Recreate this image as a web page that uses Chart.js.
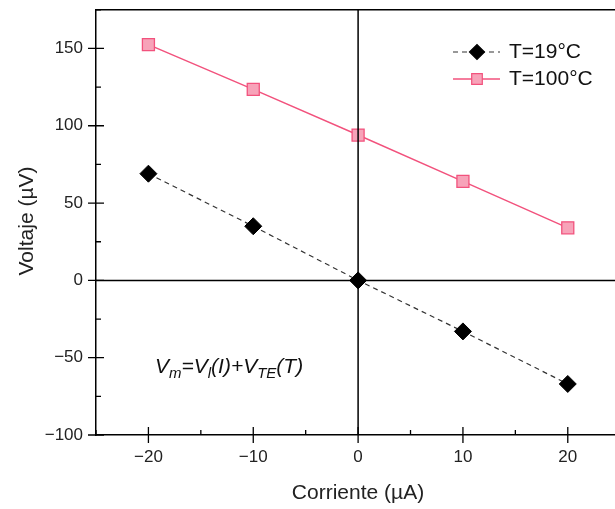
<!DOCTYPE html>
<html><head><meta charset="utf-8">
<script src="https://cdn.jsdelivr.net/npm/chart.js@4.4.0/dist/chart.umd.min.js"></script>
<style>
html,body{margin:0;padding:0;background:#fff;overflow:hidden;}
#wrap{width:630px;height:509px;position:relative;}
</style></head>
<body><div id="wrap"><canvas id="c" width="630" height="509"></canvas></div>
<script>
const corriente = [-20, -10, 0, 10, 20];
const t19 = [69, 35, 0, -33, -67];
const t100 = [152.5, 123.5, 94, 64, 34];
const xTicks = [-20, -10, 0, 10, 20];
const yTicks = [-100, -50, 0, 50, 100, 150];
const xMinor = [-25, -15, -5, 5, 15, 25];
const yMinor = [-75, -25, 25, 75, 125, 175];
const legendLabels = ['T=19°C', 'T=100°C'];

const FONT = 'Liberation Sans, Arial, sans-serif';
const RED = '#F2527D', PINK = '#F7A3B9';

const decor = {
  id: 'decor',
  afterDraw(chart) {
    const ctx = chart.ctx, a = chart.chartArea;
    const xs = chart.scales.x, ys = chart.scales.y;
    ctx.save();
    ctx.strokeStyle = '#000';
    ctx.lineWidth = 1.5;
    ctx.beginPath(); ctx.moveTo(a.left, a.top); ctx.lineTo(a.right + 5, a.top); ctx.stroke();
    ctx.beginPath();
    ctx.moveTo(xs.getPixelForValue(0), a.top); ctx.lineTo(xs.getPixelForValue(0), a.bottom);
    ctx.moveTo(a.left, ys.getPixelForValue(0)); ctx.lineTo(a.right + 5, ys.getPixelForValue(0));
    ctx.stroke();
    ctx.lineWidth = 1.3;
    ctx.beginPath();
    yTicks.forEach(v => { const y = ys.getPixelForValue(v); ctx.moveTo(a.left - 8, y); ctx.lineTo(a.left + 8, y); });
    yMinor.forEach(v => { const y = ys.getPixelForValue(v); ctx.moveTo(a.left, y); ctx.lineTo(a.left + 5, y); });
    xTicks.forEach(v => { const x = xs.getPixelForValue(v); ctx.moveTo(x, a.bottom + 8); ctx.lineTo(x, a.bottom - 8); });
    xMinor.forEach(v => { const x = xs.getPixelForValue(v); ctx.moveTo(x, a.bottom); ctx.lineTo(x, a.bottom - 5); });
    ctx.stroke();
    ctx.fillStyle = '#222';
    ctx.font = '21px ' + FONT;
    ctx.textAlign = 'center'; ctx.textBaseline = 'middle';
    ctx.fillText('Corriente (µA)', 358, 493);
    ctx.save(); ctx.translate(27, 221); ctx.rotate(-Math.PI/2); ctx.fillText('Voltaje (µV)', 0, 0); ctx.restore();
    const rows = [{y: 52, ds: chart.data.datasets[0], r: 7.5}, {y: 79, ds: chart.data.datasets[1], r: 7.5}];
    rows.forEach((r, i) => {
      ctx.save();
      ctx.strokeStyle = r.ds.borderColor; ctx.lineWidth = r.ds.borderWidth;
      ctx.setLineDash(r.ds.borderDash || []);
      ctx.beginPath(); ctx.moveTo(453, r.y); ctx.lineTo(500, r.y); ctx.stroke();
      ctx.setLineDash([]);
      ctx.fillStyle = r.ds.pointBackgroundColor; ctx.strokeStyle = r.ds.pointBorderColor; ctx.lineWidth = 1.2;
      Chart.helpers.drawPoint(ctx, {pointStyle: r.ds.pointStyle, rotation: 0, radius: r.r, borderWidth: 1.2}, 477, r.y);
      ctx.restore();
      ctx.fillStyle = '#111'; ctx.textAlign = 'left'; ctx.textBaseline = 'middle';
      ctx.font = '21px ' + FONT;
      ctx.fillText(legendLabels[i], 509, r.y);
    });
    let x = 155; const yb = 373;
    ctx.textAlign = 'left'; ctx.textBaseline = 'alphabetic'; ctx.fillStyle = '#111';
    const parts = [['V', 21, 0], ['m', 15, 5], ['=V', 21, 0], ['l', 15, 5], ['(I)+V', 21, 0], ['TE', 15, 5], ['(T)', 21, 0]];
    parts.forEach(p => { ctx.font = 'italic ' + p[1] + 'px ' + FONT; ctx.fillText(p[0], x, yb + p[2]); x += ctx.measureText(p[0]).width; });
    ctx.restore();
  }
};

new Chart(document.getElementById('c'), {
  type: 'line',
  data: {
    labels: corriente,
    datasets: [
      {label: legendLabels[0], data: corriente.map((c, i) => ({x: c, y: t19[i]})),
       borderColor: '#333', borderWidth: 1.2, borderDash: [5, 4], pointStyle: 'rectRot', pointRadius: 8.5,
       pointBackgroundColor: '#000', pointBorderColor: '#000', pointBorderWidth: 1},
      {label: legendLabels[1], data: corriente.map((c, i) => ({x: c, y: t100[i]})),
       borderColor: RED, borderWidth: 1.5, pointStyle: 'rect', pointRadius: 8.5,
       pointBackgroundColor: PINK, pointBorderColor: RED, pointBorderWidth: 1.3}
    ]
  },
  options: {
    responsive: false, animation: false,
    layout: {padding: {top: 8, right: 7, left: 0, bottom: 0}},
    plugins: {legend: {display: false}, tooltip: {enabled: false}},
    scales: {
      x: {type: 'linear', min: -25, max: 25,
          afterBuildTicks: s => { s.ticks = xTicks.map(v => ({value: v})); },
          afterFit: s => { s.height = 74; s.paddingLeft = 0; s.paddingRight = 0; },
          grid: {display: true, drawOnChartArea: false, drawTicks: true, tickLength: 8, color: 'rgba(0,0,0,0)'},
          border: {display: true, color: '#000', width: 1.5},
          ticks: {color: '#222', font: {family: FONT, size: 17}, padding: 4,
                  callback: v => (v < 0 ? '\u2212' + Math.abs(v) : String(v))}},
      y: {type: 'linear', min: -100, max: 175,
          afterBuildTicks: s => { s.ticks = yTicks.map(v => ({value: v})); },
          afterFit: s => { s.width = 96; s.paddingTop = 0; s.paddingBottom = 0; },
          grid: {display: true, drawOnChartArea: false, drawTicks: true, tickLength: 8, color: 'rgba(0,0,0,0)'},
          border: {display: true, color: '#000', width: 1.5},
          ticks: {color: '#222', font: {family: FONT, size: 17}, padding: 5,
                  callback: v => (v < 0 ? '\u2212' + Math.abs(v) : String(v))}}
    }
  },
  plugins: [decor]
});
</script></body></html>
